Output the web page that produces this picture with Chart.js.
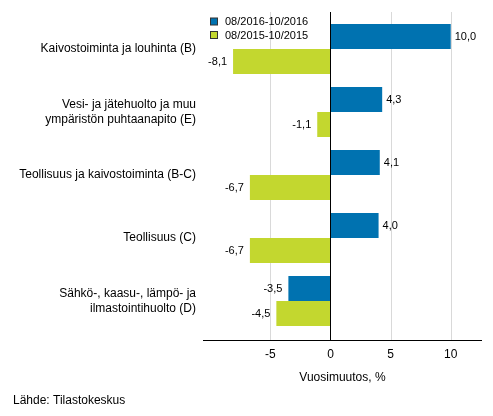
<!DOCTYPE html>
<html><head><meta charset="utf-8">
<script src="https://cdn.jsdelivr.net/npm/chart.js@4/dist/chart.umd.min.js"></script>
<style>html,body{margin:0;padding:0;background:#fff;} #wrap{width:493px;height:416px;position:relative}</style>
</head><body><div id="wrap"><canvas id="c" width="493" height="416"></canvas></div>
<script>
const categories = [
  'Kaivostoiminta ja louhinta (B)',
  ['Vesi- ja jätehuolto ja muu', 'ympäristön puhtaanapito (E)'],
  'Teollisuus ja kaivostoiminta (B-C)',
  'Teollisuus (C)',
  ['Sähkö-, kaasu-, lämpö- ja', 'ilmastointihuolto (D)']
];
const seriesNames = ['08/2016-10/2016', '08/2015-10/2015'];
const values2016 = [10.0, 4.3, 4.1, 4.0, -3.5];
const values2015 = [-8.1, -1.1, -6.7, -6.7, -4.5];
const xTickValues = [-5, 0, 5, 10];
const axisTitle = 'Vuosimuutos, %';
const sourceText = 'Lähde: Tilastokeskus';
const seriesColors = ['#0072b0', '#c3d72f'];

const FONT = '"Liberation Sans", Arial, sans-serif';

const decorPlugin = {
  id: 'decor',
  beforeDatasetsDraw(chart) {
    const {ctx, chartArea: a, scales: {x}} = chart;
    ctx.save();
    ctx.strokeStyle = '#d9d9d9';
    ctx.lineWidth = 1;
    xTickValues.forEach(v => {
      if (v === 0) return;
      const px = Math.round(x.getPixelForValue(v)) + 0.5;
      ctx.beginPath(); ctx.moveTo(px, a.top - 5.5); ctx.lineTo(px, a.bottom + 7.5); ctx.stroke();
    });
    ctx.restore();
  },
  afterDatasetsDraw(chart) {
    const {ctx, chartArea: a, scales: {x}} = chart;
    ctx.save();
    ctx.strokeStyle = '#000'; ctx.lineWidth = 1;
    const z = Math.round(x.getPixelForValue(0)) + 0.5;
    ctx.beginPath(); ctx.moveTo(z, a.top - 5.5); ctx.lineTo(z, a.bottom + 7.5); ctx.stroke();
    const by = Math.round(a.bottom + 7.5) + 0.5;
    ctx.beginPath(); ctx.moveTo(a.left, by); ctx.lineTo(a.right, by); ctx.stroke();
    ctx.font = '11px ' + FONT;
    ctx.fillStyle = '#000';
    ctx.textBaseline = 'middle';
    chart.data.datasets.forEach((ds, di) => {
      const meta = chart.getDatasetMeta(di);
      meta.data.forEach((el, i) => {
        const v = ds.data[i];
        const t = v.toFixed(1).replace('.', ',');
        if (v >= 0) { ctx.textAlign = 'left'; ctx.fillText(t, el.x + 4, el.y); }
        else { ctx.textAlign = 'right'; ctx.fillText(t, el.x - 6, el.y); }
      });
    });
    ctx.font = '11px ' + FONT;
    ctx.textAlign = 'left';
    chart.data.datasets.forEach((ds, di) => {
      const cy = 21.5 + di * 13.5;
      ctx.fillStyle = ds.backgroundColor;
      ctx.fillRect(210.5, cy - 3.5, 7, 7);
      ctx.strokeStyle = '#333';
      ctx.strokeRect(210.5, cy - 3.5, 7, 7);
      ctx.fillStyle = '#000';
      ctx.fillText(ds.label, 225, cy + 0.5);
    });
    ctx.font = '12px ' + FONT;
    ctx.fillText(sourceText, 13, 401);
    ctx.restore();
  }
};

new Chart(document.getElementById('c'), {
  type: 'bar',
  data: {
    labels: categories,
    datasets: [
      {label: seriesNames[0], data: values2016, backgroundColor: seriesColors[0]},
      {label: seriesNames[1], data: values2015, backgroundColor: seriesColors[1]}
    ]
  },
  options: {
    indexAxis: 'y',
    responsive: false,
    animation: false,
    events: [],
    devicePixelRatio: 1,
    layout: {padding: {top: 17.5, right: 11, left: 0, bottom: 0}},
    datasets: {bar: {barPercentage: 1, categoryPercentage: 0.794, borderWidth: 0}},
    plugins: {legend: {display: false}, tooltip: {enabled: false}},
    scales: {
      x: {
        type: 'linear',
        min: -10.6, max: 12.6,
        afterBuildTicks: s => { s.ticks = xTickValues.map(v => ({value: v})); },
        afterFit: s => { s.height = 83.5; s.paddingLeft = 0; s.paddingRight = 0; },
        grid: {display: false, drawTicks: false},
        border: {display: false},
        ticks: {font: {size: 12, family: FONT}, color: '#000', padding: 15, autoSkip: false, maxRotation: 0},
        title: {display: true, text: axisTitle, font: {size: 12, family: FONT}, color: '#000', padding: {top: 0, bottom: 31}}
      },
      y: {
        type: 'category',
        afterFit: s => { s.width = 203; s.paddingTop = 0; s.paddingBottom = 0; },
        grid: {display: false, drawTicks: false},
        border: {display: false},
        ticks: {font: {size: 12, family: FONT, lineHeight: 1.3}, color: '#000', padding: 7, autoSkip: false}
      }
    }
  },
  plugins: [decorPlugin]
});
</script>
</body></html>
